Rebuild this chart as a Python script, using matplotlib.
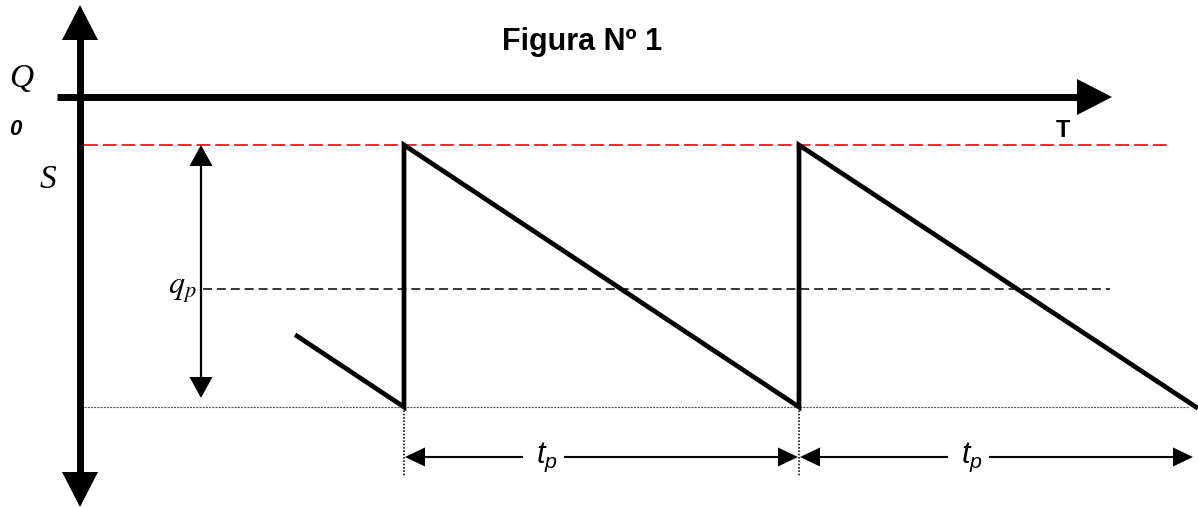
import matplotlib
matplotlib.use("Agg")
import matplotlib.pyplot as plt

plt.rcParams['lines.scale_dashes'] = False
plt.rcParams['mathtext.fontset'] = 'custom'
plt.rcParams['mathtext.it'] = 'Liberation Sans:italic'
plt.rcParams['mathtext.rm'] = 'Liberation Sans'

# ---- data (diagram coordinates: x = time axis, y = level, drawn top-down) ----
title = "Figura Nº 1"
saw_t = [297, 404, 404, 799, 799, 1196]      # sawtooth time points
saw_q = [336, 407, 145, 407, 145, 407]       # sawtooth levels
level_S = 145      # red dashed level S
level_qp = 289     # dashed level q_p
level_0 = 407      # dotted base level
origin_x = 80      # vertical axis position
axis_y = 97        # horizontal axis position
cycle_starts = [404, 799]
cycle_ends = [799, 1194]
tp_label_x = [547, 972]

fig = plt.figure(figsize=(11.98, 5.08), dpi=100)
ax = fig.add_axes([0, 0, 1, 1])
ax.set_xlim(0, 1198)
ax.set_ylim(508, 0)
ax.axis('off')


def head(tip, direction, length, half):
    x, y = tip
    dx, dy = direction
    bx, by = x - dx * length, y - dy * length
    px, py = -dy * half, dx * half
    ax.fill([x, bx + px, bx - px], [y, by + py, by - py], color='black', lw=0, zorder=5)


# main axes
ax.plot([origin_x, origin_x], [38, 475], color='black', lw=5, solid_capstyle='butt')
head((origin_x, 5), (0, -1), 35, 18)
head((origin_x, 507), (0, 1), 35, 18)
ax.plot([57, 1080], [axis_y, axis_y], color='black', lw=5, solid_capstyle='butt')
head((1112, axis_y), (1, 0), 35, 18)

# reference levels
ax.plot([84, 1170], [level_S, level_S], color='red', lw=1.2, dashes=(10, 3.5))
ax.plot([203, 1110], [level_qp, level_qp], color='black', lw=1.1, dashes=(6.5, 3.5))
ax.plot([84, 1188], [level_0, level_0], color='#555555', lw=0.8, dashes=(1.5, 0.8))

# sawtooth
ax.plot(saw_t, saw_q, color='black', lw=3.4, solid_joinstyle='miter', zorder=4)

# double arrow for q
ax.plot([201, 201], [160, 385], color='black', lw=1.6)
head((201, level_S), (0, -1), 21, 11.5)
head((201, 398), (0, 1), 21, 11.5)

# cycle dimension lines
for s in cycle_starts:
    ax.plot([s, s], [level_0, 476], color='black', lw=1.1, dashes=(1.2, 1.2))
for s, e, lx in zip(cycle_starts, cycle_ends, tp_label_x):
    ax.plot([s + 15, lx - 25], [457, 457], color='black', lw=1.5)
    ax.plot([lx + 18, e - 15], [457, 457], color='black', lw=1.5)
    head((s + 1, 457), (-1, 0), 20, 9.5)
    head((e - 1, 457), (1, 0), 20, 9.5)
    ax.text(lx, 463, r'$t_p$', fontsize=22, ha='center', va='baseline')

# labels
ax.text(582, 50, title, fontsize=22, fontweight='bold', family='Liberation Sans',
        ha='center', va='baseline')
ax.text(9, 87, 'Q', fontsize=24, fontstyle='italic', family='Liberation Serif', va='baseline')
ax.text(9, 135, '0', fontsize=16, fontstyle='italic', fontweight='bold',
        family='Liberation Sans', va='baseline')
ax.text(40, 188, 'S', fontsize=24, fontstyle='italic', family='Liberation Serif', va='baseline')
ax.text(197, 294, r'$q_p$', fontsize=23, math_fontfamily='stix', ha='right', va='baseline')
ax.text(1063, 137, 'T', fontsize=17, fontweight='bold', family='Liberation Sans',
        ha='center', va='baseline')

fig.savefig('out.png', dpi=100)
